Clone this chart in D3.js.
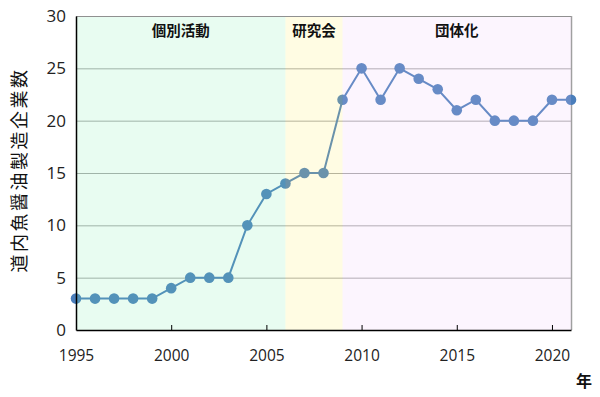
<!DOCTYPE html>
<html>
<head>
<meta charset="utf-8">
<script src="https://cdn.jsdelivr.net/npm/d3@7"></script>
<style>
  body { margin: 0; background: #fff; }
  svg { font-family: "Noto Sans CJK JP", "Noto Sans", sans-serif; }
</style>
</head>
<body>
<svg id="chart" width="600" height="397"></svg>
<script>
// years and number of companies
var years = [1995, 1996, 1997, 1998, 1999, 2000, 2001, 2002, 2003, 2004, 2005, 2006, 2007,
             2008, 2009, 2010, 2011, 2012, 2013, 2014, 2015, 2016, 2017, 2018, 2019, 2020, 2021];
var counts = [3, 3, 3, 3, 3, 4, 5, 5, 5, 10, 13, 14, 15,
              15, 22, 25, 22, 25, 24, 23, 21, 22, 20, 20, 20, 22, 22];

// phases: [label, from, to]
var phaseNames = ["個別活動", "研究会", "団体化"];
var phaseStart = [1995, 2006, 2009];
var phaseEnd = [2006, 2009, 2021];
var phaseColors = ["#7ff0b0", "#fff066", "#ecc8fa"];

var xTicks = [1995, 2000, 2005, 2010, 2015, 2020];
var yTicks = [0, 5, 10, 15, 20, 25, 30];

var yTitle = "道内魚醤油製造企業数";
var xTitle = "年";

var margin = {left: 76, right: 29, top: 16, bottom: 67};
var width = 600 - margin.left - margin.right;
var height = 397 - margin.top - margin.bottom;

var svg = d3.select("#chart");
var g = svg.append("g")
    .attr("transform", "translate(" + margin.left + "," + margin.top + ")");

var x = d3.scaleLinear().domain([1995, 2021]).range([0, width]);
var y = d3.scaleLinear().domain([0, 30]).range([height, 0]);

// grid lines
g.selectAll("line.grid")
    .data(yTicks.filter(function(d) { return d > 0; }))
    .enter()
    .append("line")
    .attr("class", "grid")
    .attr("x1", 0)
    .attr("x2", width)
    .attr("y1", function(d) { return y(d) + 0.5; })
    .attr("y2", function(d) { return y(d) + 0.5; })
    .attr("stroke", "#a8a8a8")
    .attr("stroke-width", 1);

// right border
g.append("line")
    .attr("x1", width + 0.5).attr("x2", width + 0.5)
    .attr("y1", 0).attr("y2", height)
    .attr("stroke", "#a0a0a0")
    .attr("stroke-width", 1.5);

// series
var data = years.map(function(d, i) { return [d, counts[i]]; });

g.append("path")
    .datum(data)
    .attr("fill", "none")
    .attr("stroke", "#4a7ebb")
    .attr("stroke-width", 2)
    .attr("d", d3.line()
        .x(function(d) { return x(d[0]); })
        .y(function(d) { return y(d[1]); }));

g.selectAll("circle")
    .data(data)
    .enter()
    .append("circle")
    .attr("cx", function(d) { return x(d[0]); })
    .attr("cy", function(d) { return y(d[1]); })
    .attr("r", 5.3)
    .attr("fill", "#4a7ebb");

// phase bands, semi transparent over the series
g.selectAll("rect.band")
    .data(phaseNames)
    .enter()
    .append("rect")
    .attr("class", "band")
    .attr("x", function(d, i) { return x(phaseStart[i]); })
    .attr("y", 0)
    .attr("width", function(d, i) { return x(phaseEnd[i]) - x(phaseStart[i]); })
    .attr("height", height)
    .attr("fill", function(d, i) { return phaseColors[i]; })
    .attr("fill-opacity", 0.18);

g.selectAll("text.phase")
    .data(phaseNames)
    .enter()
    .append("text")
    .attr("class", "phase")
    .attr("x", function(d, i) { return (x(phaseStart[i]) + x(phaseEnd[i])) / 2; })
    .attr("y", 15)
    .attr("dy", ".35em")
    .attr("text-anchor", "middle")
    .attr("font-size", "14.5px")
    .attr("font-weight", "bold")
    .attr("fill", "#111")
    .text(function(d) { return d; });

// top border
g.append("line")
    .attr("x1", 0).attr("x2", width)
    .attr("y1", 0.5).attr("y2", 0.5)
    .attr("stroke", "#909090")
    .attr("stroke-width", 1);

// y axis
var yAxis = g.append("g")
    .call(d3.axisLeft(y).tickValues(yTicks).tickSize(0).tickPadding(10));
yAxis.select(".domain").attr("stroke", "#000").attr("stroke-width", 1.5);
yAxis.selectAll("text").attr("font-size", "17px").attr("fill", "#222")
    .attr("font-family", "'Open Sans', sans-serif");

// x axis, ticks point inward
var xAxis = g.append("g")
    .attr("transform", "translate(0," + height + ")")
    .call(d3.axisBottom(x).tickValues(xTicks).tickFormat(d3.format("d"))
        .tickSizeInner(-5).tickSizeOuter(0).tickPadding(20));
xAxis.select(".domain").attr("stroke", "#000").attr("stroke-width", 1.5);
xAxis.selectAll(".tick line").attr("stroke", "#000");
xAxis.selectAll("text").attr("font-size", "15.5px").attr("fill", "#222")
    .attr("font-family", "'Open Sans', sans-serif");

// titles
svg.append("text")
    .attr("transform", "translate(20," + (margin.top + height / 2 - 3) + ") rotate(-90)")
    .attr("text-anchor", "middle")
    .attr("dy", ".35em")
    .attr("font-size", "18px")
    .attr("fill", "#111")
    .attr("letter-spacing", "2.5px")
    .text(yTitle);

svg.append("text")
    .attr("x", 584)
    .attr("y", 381)
    .attr("text-anchor", "middle")
    .attr("dy", ".35em")
    .attr("font-size", "16px")
    .attr("font-weight", "bold")
    .attr("fill", "#111")
    .text(xTitle);
</script>
</body>
</html>
